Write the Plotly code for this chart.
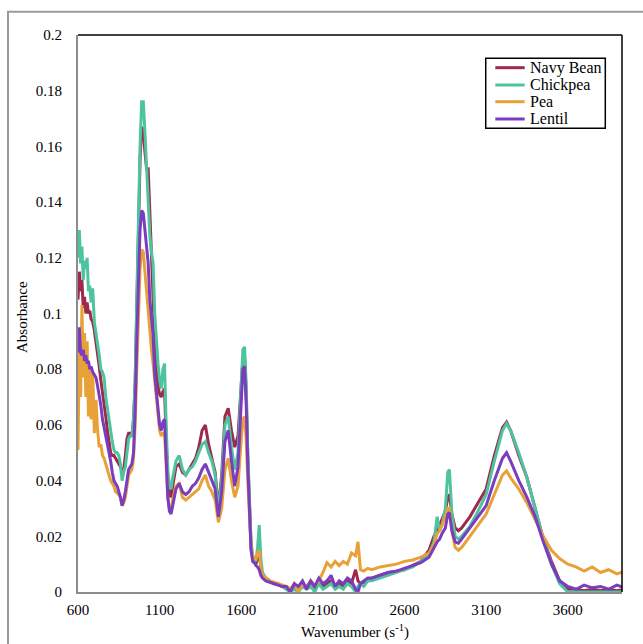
import plotly.graph_objects as go

wavenumber = [600, 608, 616, 624, 632, 640, 648, 656, 664, 672, 680, 690, 700, 710, 720, 730, 740, 750, 760, 770,
              780, 790, 800, 810, 820, 830, 840, 850, 860, 870, 880, 890, 900, 910, 920, 930, 940, 950, 960, 970,
              980, 990, 1000, 1010, 1020, 1030, 1040, 1050, 1060, 1070, 1080, 1090, 1100, 1110, 1120, 1130, 1140, 1150, 1160, 1170,
              1180, 1200, 1220, 1240, 1260, 1280, 1300, 1320, 1340, 1360, 1380, 1400, 1420, 1440, 1460, 1480, 1500, 1520, 1540, 1560,
              1580, 1600, 1610, 1620, 1630, 1640, 1650, 1660, 1670, 1680, 1690, 1700, 1710, 1720, 1730, 1750, 1775, 1800, 1825, 1850,
              1875, 1900, 1925, 1950, 1975, 2000, 2025, 2050, 2075, 2100, 2125, 2150, 2175, 2200, 2225, 2250, 2275, 2300, 2315, 2330,
              2350, 2375, 2400, 2450, 2500, 2550, 2600, 2650, 2700, 2750, 2780, 2800, 2815, 2830, 2850, 2865, 2875, 2890, 2910, 2930,
              2950, 3000, 3050, 3100, 3150, 3200, 3225, 3250, 3300, 3350, 3400, 3450, 3500, 3550, 3600, 3650, 3700, 3750, 3800, 3850,
              3900, 3950, 4000]

navy_bean = [0.105, 0.115, 0.108, 0.112, 0.102, 0.106, 0.100, 0.104, 0.100, 0.101, 0.098, 0.097, 0.094, 0.090, 0.086, 0.081, 0.076, 0.072, 0.068, 0.063,
             0.058, 0.053, 0.050, 0.049, 0.049, 0.048, 0.047, 0.046, 0.045, 0.043, 0.044, 0.049, 0.055, 0.057, 0.057, 0.056, 0.062, 0.075, 0.100, 0.130,
             0.155, 0.167, 0.165, 0.158, 0.152, 0.152, 0.135, 0.118, 0.105, 0.090, 0.080, 0.074, 0.071, 0.070, 0.072, 0.073, 0.055, 0.040, 0.035, 0.034,
             0.038, 0.045, 0.046, 0.043, 0.042, 0.044, 0.046, 0.048, 0.052, 0.058, 0.060, 0.053, 0.048, 0.043, 0.030, 0.042, 0.063, 0.066, 0.058, 0.052,
             0.056, 0.076, 0.084, 0.085, 0.072, 0.048, 0.028, 0.016, 0.012, 0.011, 0.010, 0.012, 0.014, 0.009, 0.006, 0.005, 0.004, 0.003, 0.003, 0.002,
             0.002, 0.001, 0.002, 0.001, 0.003, 0.002, 0.003, 0.001, 0.003, 0.002, 0.003, 0.004, 0.002, 0.003, 0.002, 0.004, 0.003, 0.008, 0.004, 0.003,
             0.003, 0.004, 0.005, 0.006, 0.007, 0.0075, 0.008, 0.0095, 0.011, 0.015, 0.020, 0.022, 0.024, 0.026, 0.029, 0.034, 0.035, 0.028, 0.023, 0.022,
             0.023, 0.027, 0.032, 0.037, 0.049, 0.059, 0.061, 0.058, 0.049, 0.041, 0.030, 0.019, 0.011, 0.004, 0.001, 0.001, 0.0005, 0.001, 0.0005, 0.001,
             0.0005, 0.001, 0.0007]

chickpea = [0.120, 0.130, 0.118, 0.124, 0.112, 0.119, 0.116, 0.120, 0.108, 0.110, 0.104, 0.109, 0.097, 0.092, 0.089, 0.085, 0.080, 0.079, 0.077, 0.070,
            0.066, 0.061, 0.057, 0.054, 0.051, 0.050, 0.050, 0.049, 0.046, 0.040, 0.043, 0.045, 0.050, 0.055, 0.056, 0.056, 0.062, 0.075, 0.105, 0.135,
            0.160, 0.176, 0.176, 0.165, 0.153, 0.140, 0.128, 0.122, 0.118, 0.100, 0.090, 0.082, 0.076, 0.073, 0.080, 0.082, 0.060, 0.044, 0.038, 0.037,
            0.041, 0.047, 0.049, 0.044, 0.042, 0.044, 0.045, 0.047, 0.050, 0.053, 0.054, 0.050, 0.047, 0.042, 0.029, 0.040, 0.060, 0.063, 0.052, 0.044,
            0.050, 0.078, 0.087, 0.088, 0.075, 0.050, 0.030, 0.018, 0.013, 0.012, 0.011, 0.016, 0.024, 0.012, 0.007, 0.005, 0.004, 0.003, 0.003, 0.002,
            0.001, 0.000, 0.001, 0.000, 0.002, 0.001, 0.002, 0.000, 0.003, 0.001, 0.002, 0.003, 0.001, 0.002, 0.001, 0.003, 0.002, 0.000, 0.002, 0.003,
            0.002, 0.004, 0.004, 0.005, 0.006, 0.007, 0.008, 0.009, 0.011, 0.0135, 0.018, 0.027, 0.022, 0.024, 0.030, 0.043, 0.044, 0.028, 0.020, 0.019,
            0.020, 0.0235, 0.029, 0.035, 0.047, 0.058, 0.0605, 0.058, 0.050, 0.041, 0.030, 0.019, 0.010, 0.003, 0.000, 0.000, 0.000, 0.000, 0.000, 0.000,
            0.000, 0.000, 0.000]

pea = [0.051, 0.088, 0.070, 0.103, 0.077, 0.093, 0.070, 0.090, 0.063, 0.080, 0.062, 0.079, 0.057, 0.069, 0.058, 0.052, 0.053, 0.049, 0.048, 0.046,
       0.044, 0.042, 0.040, 0.039, 0.038, 0.036, 0.0355, 0.035, 0.034, 0.031, 0.032, 0.034, 0.038, 0.042, 0.043, 0.044, 0.048, 0.060, 0.080, 0.100,
       0.116, 0.123, 0.122, 0.115, 0.108, 0.100, 0.092, 0.087, 0.082, 0.077, 0.070, 0.064, 0.058, 0.056, 0.057, 0.057, 0.046, 0.034, 0.030, 0.029,
       0.033, 0.038, 0.039, 0.034, 0.033, 0.034, 0.035, 0.036, 0.037, 0.040, 0.042, 0.038, 0.036, 0.033, 0.025, 0.030, 0.044, 0.048, 0.040, 0.034,
       0.038, 0.055, 0.062, 0.063, 0.055, 0.040, 0.025, 0.016, 0.013, 0.012, 0.012, 0.014, 0.015, 0.009, 0.006, 0.005, 0.004, 0.0035, 0.003, 0.0025,
       0.002, 0.001, 0.003, 0.000, 0.003, 0.002, 0.004, 0.002, 0.004, 0.007, 0.0105, 0.009, 0.011, 0.0095, 0.011, 0.010, 0.014, 0.013, 0.018, 0.008,
       0.0075, 0.0085, 0.008, 0.009, 0.0095, 0.010, 0.011, 0.0115, 0.0125, 0.014, 0.017, 0.021, 0.022, 0.024, 0.027, 0.030, 0.030, 0.022, 0.016, 0.015,
       0.016, 0.020, 0.024, 0.028, 0.035, 0.042, 0.0435, 0.041, 0.037, 0.032, 0.026, 0.020, 0.015, 0.012, 0.010, 0.009, 0.0075, 0.009, 0.007, 0.008,
       0.0065, 0.0075, 0.0055]

lentil = [0.086, 0.095, 0.086, 0.085, 0.087, 0.083, 0.085, 0.082, 0.083, 0.080, 0.081, 0.079, 0.078, 0.077, 0.074, 0.071, 0.067, 0.062, 0.059, 0.056,
          0.054, 0.050, 0.047, 0.043, 0.040, 0.039, 0.038, 0.036, 0.034, 0.031, 0.033, 0.036, 0.041, 0.044, 0.045, 0.046, 0.050, 0.065, 0.090, 0.115,
          0.130, 0.137, 0.136, 0.130, 0.124, 0.118, 0.105, 0.099, 0.092, 0.078, 0.072, 0.066, 0.060, 0.058, 0.061, 0.062, 0.048, 0.034, 0.029, 0.028,
          0.031, 0.037, 0.039, 0.036, 0.035, 0.036, 0.038, 0.039, 0.041, 0.044, 0.046, 0.043, 0.040, 0.037, 0.027, 0.036, 0.054, 0.058, 0.047, 0.038,
          0.045, 0.070, 0.080, 0.081, 0.068, 0.045, 0.026, 0.015, 0.011, 0.0105, 0.0095, 0.009, 0.008, 0.006, 0.005, 0.004, 0.0035, 0.003, 0.0025, 0.002,
          0.002, 0.000, 0.003, 0.002, 0.004, 0.001, 0.004, 0.002, 0.005, 0.003, 0.004, 0.006, 0.002, 0.004, 0.003, 0.005, 0.004, 0.001, 0.000, 0.003,
          0.004, 0.005, 0.005, 0.006, 0.007, 0.0075, 0.0085, 0.0095, 0.0105, 0.0125, 0.016, 0.018, 0.019, 0.021, 0.023, 0.028, 0.0285, 0.022, 0.018, 0.0175,
          0.019, 0.023, 0.027, 0.031, 0.040, 0.048, 0.050, 0.047, 0.040, 0.034, 0.027, 0.018, 0.010, 0.004, 0.002, 0.001, 0.0025, 0.0015, 0.002, 0.001,
          0.0025, 0.0015, 0.002]

series_names = ["Navy Bean", "Chickpea", "Pea", "Lentil"]
series_values = [navy_bean, chickpea, pea, lentil]
series_colors = ["#9E2A4B", "#4DC3A0", "#E8A136", "#7B3DBF"]

y_ticks = [0, 0.02, 0.04, 0.06, 0.08, 0.1, 0.12, 0.14, 0.16, 0.18, 0.2]
y_tick_labels = ["0", "0.02", "0.04", "0.06", "0.08", "0.1", "0.12", "0.14", "0.16", "0.18", "0.2"]
x_ticks = [600, 1100, 1600, 2100, 2600, 3100, 3600]

font_family = "Liberation Serif, Times New Roman, serif"

fig = go.Figure()
for name, vals, col in zip(series_names, series_values, series_colors):
    fig.add_trace(go.Scatter(x=wavenumber, y=vals, mode="lines", name=name,
                             line=dict(color=col, width=3), showlegend=False))

# manual legend (box, sample lines, labels)
leg_x0, leg_x1, leg_top, leg_bot = 0.7495, 0.9693, 0.9582, 0.8325
line_x0, line_x1, text_x = 0.7671, 0.8211, 0.8272
row_y = [0.9413, 0.9102, 0.8803, 0.8492]

shapes = [
    dict(type="rect", xref="paper", yref="paper", x0=-0.1287, x1=1.06, y0=-0.12, y1=1.0418,
         line=dict(color="#9a9a9a", width=2), fillcolor="rgba(0,0,0,0)", layer="below"),
    dict(type="line", xref="paper", yref="paper", x0=0, x1=1, y0=1, y1=1,
         line=dict(color="black", width=1.5)),
    dict(type="line", xref="paper", yref="paper", x0=1, x1=1, y0=0, y1=1,
         line=dict(color="black", width=1.5)),
    dict(type="rect", xref="paper", yref="paper", x0=leg_x0, x1=leg_x1, y0=leg_bot, y1=leg_top,
         line=dict(color="black", width=1.5), fillcolor="white"),
]
annotations = []
for name, col, yy in zip(series_names, series_colors, row_y):
    shapes.append(dict(type="line", xref="paper", yref="paper", x0=line_x0, x1=line_x1, y0=yy, y1=yy,
                       line=dict(color=col, width=3)))
    annotations.append(dict(text=name, xref="paper", yref="paper", x=text_x, y=yy,
                            xanchor="left", yanchor="middle", showarrow=False,
                            font=dict(family=font_family, size=16, color="black")))

annotations.append(dict(text="Absorbance", xref="paper", yref="paper", x=-0.103, y=0.4937,
                        xanchor="center", yanchor="middle", textangle=-90, showarrow=False,
                        font=dict(family=font_family, size=15, color="black")))
annotations.append(dict(text="Wavenumber (s<sup>-1</sup>)", xref="paper", yref="paper", x=0.509, y=-0.0718,
                        xanchor="center", yanchor="middle", showarrow=False,
                        font=dict(family=font_family, size=15, color="black")))

fig.update_layout(
    width=643, height=644,
    margin=dict(l=78, r=21, t=35, b=52, autoexpand=False),
    paper_bgcolor="white", plot_bgcolor="white",
    font=dict(family=font_family, size=15, color="black"),
    showlegend=False,
    xaxis=dict(range=[600, 3932], tickvals=x_ticks, showgrid=False, zeroline=False, automargin=False,
               showline=True, linecolor="#8c8c8c", linewidth=2,
               ticks="outside", ticklen=3, tickcolor="rgba(0,0,0,0)",
               tickfont=dict(family=font_family, size=15, color="black")),
    yaxis=dict(range=[0, 0.2], tickvals=y_ticks, ticktext=y_tick_labels, showgrid=False, zeroline=False,
               automargin=False, showline=True, linecolor="#8c8c8c", linewidth=2,
               ticks="outside", ticklen=11, tickcolor="rgba(0,0,0,0)",
               tickfont=dict(family=font_family, size=15, color="black")),
    shapes=shapes,
    annotations=annotations,
)

fig.write_html("out.html", config={"displayModeBar": False},
               post_script="document.body.style.margin='0';document.body.style.overflow='hidden';")
